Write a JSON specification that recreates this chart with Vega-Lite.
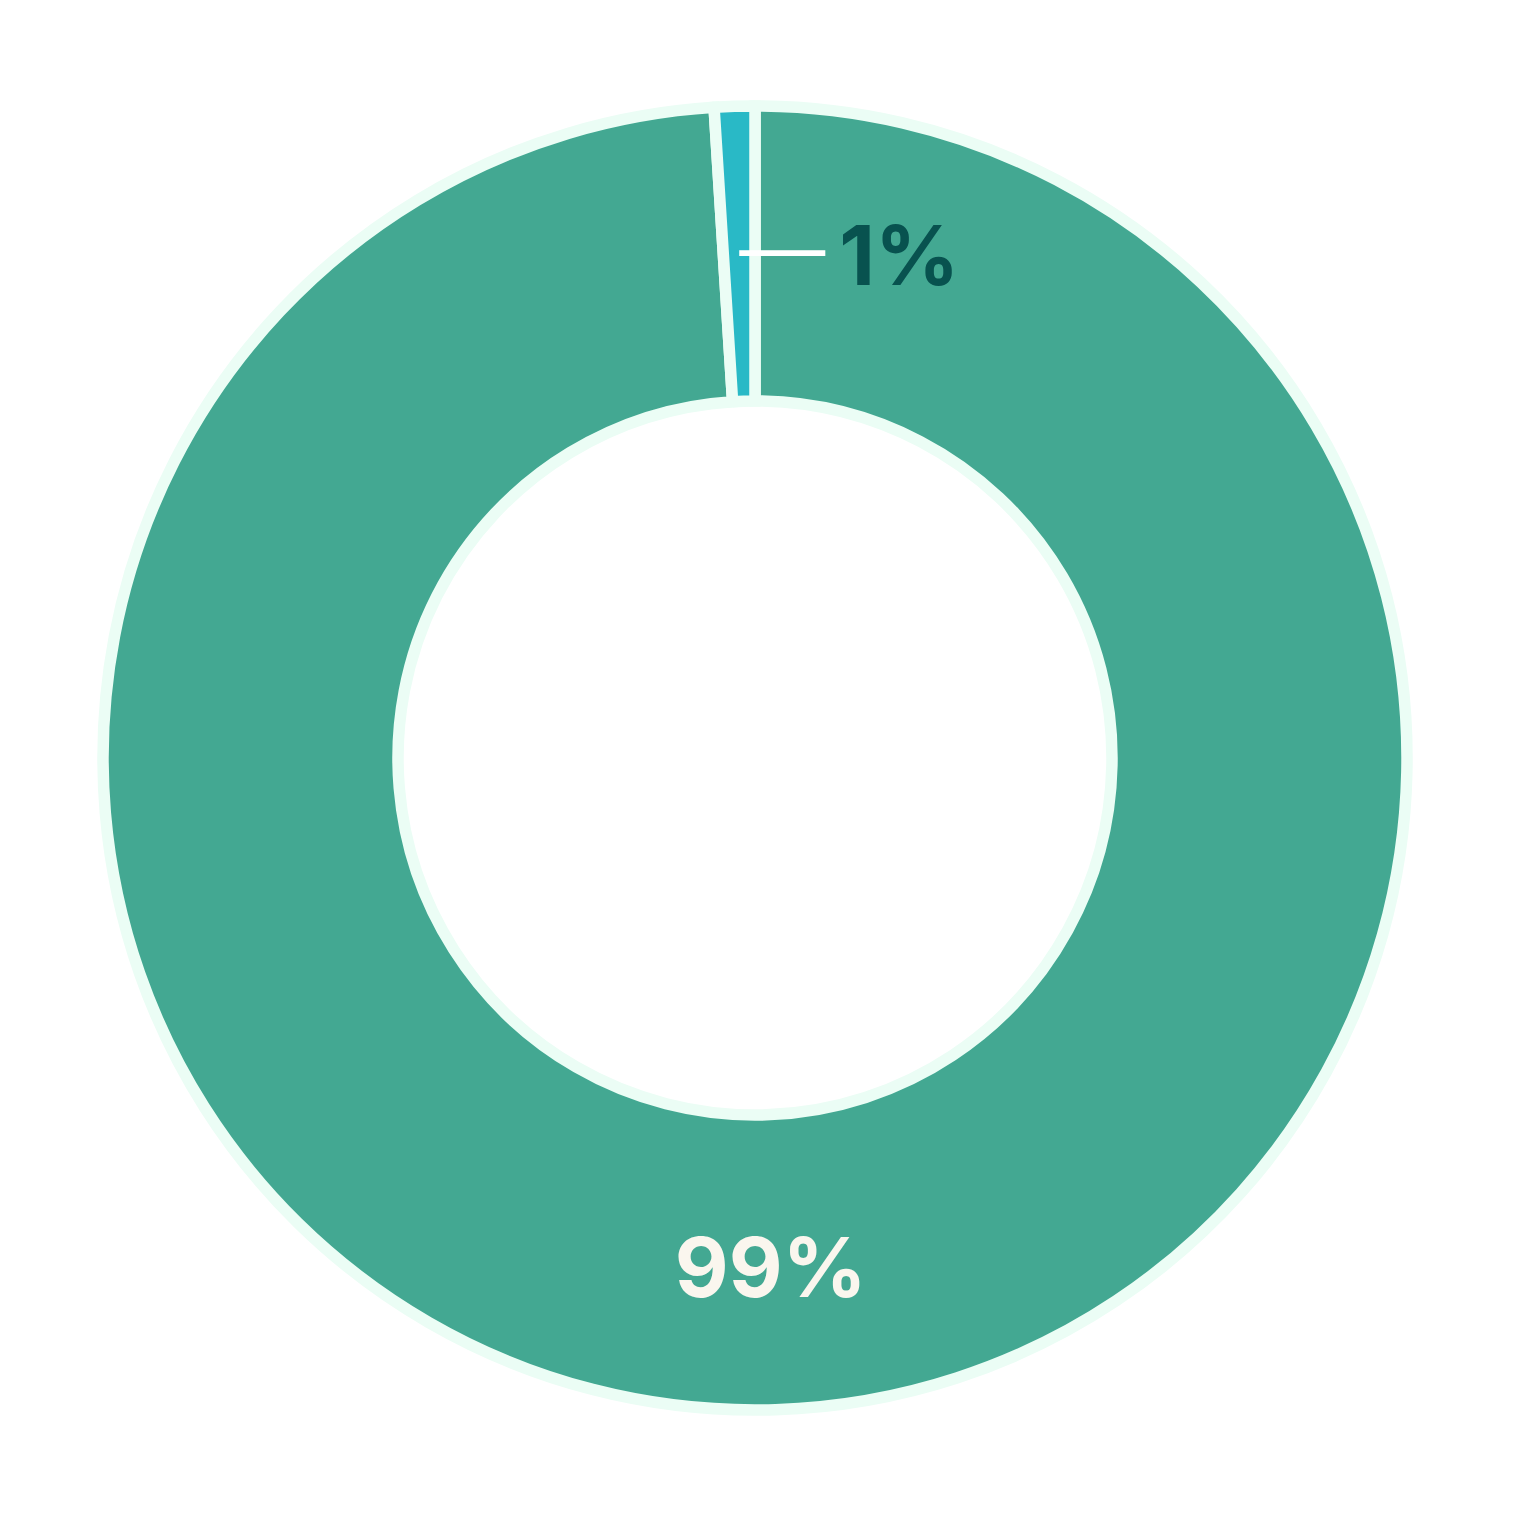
{
  "$schema": "https://vega.github.io/schema/vega-lite/v6.json",
  "width": 1510,
  "height": 1516,
  "padding": 0,
  "autosize": {"type": "none"},
  "background": "#ffffff",
  "config": {"view": {"stroke": null}},
  "data": {"values": [
    {"label": "99%", "value": 99, "order": 1},
    {"label": "1%", "value": 1, "order": 2}
  ]},
  "encoding": {
    "theta": {"field": "value", "type": "quantitative", "stack": true},
    "order": {"field": "order", "type": "quantitative"}
  },
  "layer": [
    {
      "mark": {"type": "arc", "outerRadius": 652, "innerRadius": 357, "stroke": "#ebfdf5", "strokeWidth": 11.5},
      "encoding": {
        "color": {"field": "label", "type": "nominal", "scale": {"domain": ["99%", "1%"], "range": ["#43a892", "#29b9c6"]}, "legend": null}
      }
    },
    {
      "mark": {"type": "text", "radius": 505, "text": "—", "font": "Liberation Sans", "fontSize": 86, "align": "left", "baseline": "alphabetic", "dy": 21.5, "color": "#ffffff"},
      "encoding": {
        "opacity": {"condition": {"test": "datum.label === '1%'", "value": 1}, "value": 0}
      }
    },
    {
      "mark": {"type": "text", "radius": 505, "font": "Inter", "fontWeight": "bold", "fontSize": 83, "align": "left", "baseline": "alphabetic", "dx": 100, "dy": 32, "color": "#08524f"},
      "encoding": {
        "text": {"field": "label"},
        "opacity": {"condition": {"test": "datum.label === '1%'", "value": 1}, "value": 0}
      }
    },
    {
      "mark": {"type": "text", "radius": 505, "font": "Inter", "fontWeight": "bold", "fontSize": 83, "align": "center", "baseline": "alphabetic", "dx": 0, "dy": 34, "color": "#faf6ee"},
      "encoding": {
        "text": {"field": "label"},
        "opacity": {"condition": {"test": "datum.label === '99%'", "value": 1}, "value": 0}
      }
    }
  ]
}
